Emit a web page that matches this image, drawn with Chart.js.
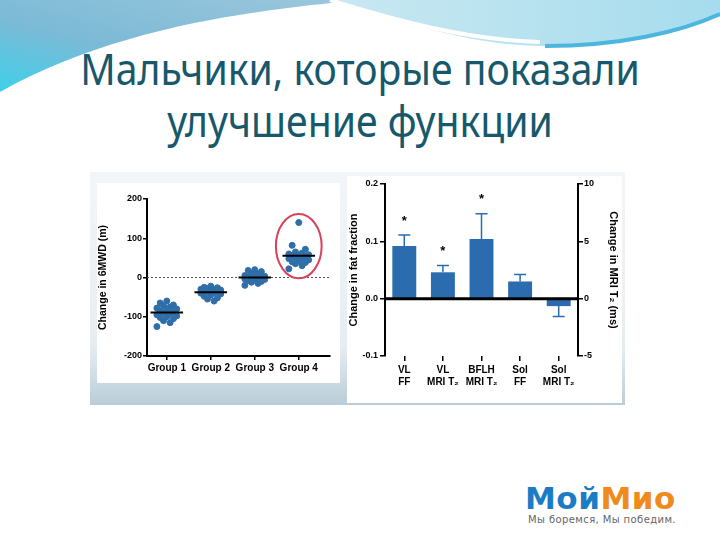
<!DOCTYPE html>
<html>
<head>
<meta charset="utf-8">
<script src="https://cdn.jsdelivr.net/npm/chart.js@4.4.0/dist/chart.umd.min.js"></script>
<style>
body{margin:0;width:720px;height:540px;overflow:hidden;background:#fff;position:relative;font-family:"Noto Sans",sans-serif}
#bg{position:absolute;left:0;top:0}
.title{position:absolute;left:0;width:720px;text-align:center;color:#17586c;font-size:44px;line-height:1;white-space:nowrap;transform:scaleX(0.89)}
#t1{top:46px}
#t2{top:98px}
#frame{position:absolute;left:90px;top:172px;width:535px;height:233px;background:linear-gradient(#f3f6f8,#e6edf1 75%,#b9cdd8)}
#leftBox{position:absolute;left:97px;top:183px;width:243px;height:200px;background:#fff}
#rightBox{position:absolute;left:347px;top:176px;width:275px;height:227px;background:#fff}
#logo{position:absolute;left:525px;top:483px;font-family:"DejaVu Sans",sans-serif;font-weight:bold;font-size:31px;letter-spacing:0.5px;line-height:1}
#logo .a{color:#1b7cc6}
#logo .b{color:#f08a1a}
#tag{position:absolute;left:528px;top:514px;font-family:"DejaVu Sans",sans-serif;font-size:10px;letter-spacing:0.4px;color:#666;white-space:nowrap}
</style>
</head>
<body>
<svg id="bg" width="720" height="540">
  <defs>
    <linearGradient id="gl" x1="1" y1="0" x2="0" y2="1">
      <stop offset="0" stop-color="#9cc7dc"/>
      <stop offset="0.6" stop-color="#7cbad6"/>
      <stop offset="1" stop-color="#3fd0ea"/>
    </linearGradient>
    <linearGradient id="gr" x1="0" y1="0" x2="1" y2="0">
      <stop offset="0" stop-color="#c9e8f1"/>
      <stop offset="1" stop-color="#a6dcee"/>
    </linearGradient>
  </defs>
  <path d="M0,0 L360,0 C 260,10 120,25 0,92 Z" fill="url(#gl)"/>
  <path d="M330,0 C 420,28 480,46 545,46 C 620,46 680,32 720,14 L720,0 Z" fill="url(#gr)"/>
  <path d="M330,0 C 400,22 470,40 540,42" stroke="#fff" stroke-width="4" fill="none"/>
  <path d="M545,46 C 620,46 680,32 720,14" stroke="#4cb6de" stroke-width="4" fill="none"/>
</svg>
<div class="title" id="t1">Мальчики, которые показали</div>
<div class="title" id="t2">улучшение функции</div>
<div id="frame"></div>
<div id="leftBox"><canvas id="left" width="243" height="200"></canvas></div>
<div id="rightBox"><canvas id="right" width="275" height="227"></canvas></div>
<div id="logo"><span class="a">Мой</span><span class="b">Мио</span></div>
<div id="tag">Мы боремся, Мы победим.</div>
<script>
// left chart: change in 6MWD (m) per group
const groups = ['Group 1', 'Group 2', 'Group 3', 'Group 4']
const group1 = [-60, -65, -70, -72, -75, -78, -80, -82, -85, -88, -90, -92, -95, -98, -100, -102, -105, -110, -115, -125]
const group2 = [-22, -25, -26, -28, -30, -30, -32, -33, -35, -35, -36, -38, -40, -42, -45, -48, -52, -55, -60]
const group3 = [20, 18, 15, 10, 8, 5, 3, 2, 0, -1, -2, -3, -4, -5, -6, -8, -10, -12, -15, -20]
const group4 = [140, 82, 72, 65, 62, 60, 58, 56, 55, 54, 52, 50, 48, 45, 42, 40, 38, 35, 30, 22]
const walkTicks = [-200, -100, 0, 100, 200]

// right chart: change in fat fraction / MRI T2
const muscles = [['VL', 'FF'], ['VL', 'MRI T₂'], ['BFLH', 'MRI T₂'], ['Sol', 'FF'], ['Sol', 'MRI T₂']]
const fatChange = [0.092, 0.046, 0.104, 0.030, -0.013]
const fatError = [0.019, 0.012, 0.044, 0.012, 0.018]
const significant = [true, true, true, false, false]
const fatTicks = [-0.1, 0, 0.1, 0.2]
const t2Ticks = [-5, 0, 5, 10]

const dotBlue = '#2f6ea8'
const barBlue = '#2b6cae'
const narrow = '"Liberation Sans Narrow", "Liberation Sans", Arial, sans-serif'
const arial = '"Liberation Sans", Arial, sans-serif'

const allGroups = [group1, group2, group3, group4]
const mean = a => a.reduce((s, v) => s + v, 0) / a.length
// spread points sideways so neighbours in value don't overlap
const spread = [0, -2, 2, -1, 1, -3, 3]

let leftSets = []
leftSets.push({
    type: 'line',
    data: [{x: 0.55, y: 0}, {x: 4.71, y: 0}],
    borderColor: '#555',
    borderWidth: 1,
    borderDash: [2, 2],
    pointRadius: 0,
    order: 3
})
allGroups.forEach((vals, g) => {
    leftSets.push({
        data: vals.map((v, k) => ({x: g + 1 + spread[k % 7] * 0.075, y: v})),
        backgroundColor: dotBlue,
        borderColor: dotBlue,
        pointRadius: 3,
        order: 2
    })
    let m = mean(vals)
    leftSets.push({
        type: 'line',
        data: [{x: g + 1 - 0.37, y: m}, {x: g + 1 + 0.37, y: m}],
        borderColor: '#000',
        borderWidth: 2,
        pointRadius: 0,
        order: 1
    })
})

// red ring round group 4
const ringPlugin = {
    id: 'ring',
    afterDatasetsDraw(chart) {
        const {ctx, scales: {x, y}} = chart
        let cx = x.getPixelForValue(4)
        let rx = x.getPixelForValue(4.52) - cx
        let top = y.getPixelForValue(162)
        let bottom = y.getPixelForValue(-2)
        ctx.save()
        ctx.strokeStyle = '#d8435c'
        ctx.lineWidth = 2
        ctx.beginPath()
        ctx.ellipse(cx, (top + bottom) / 2, rx, (bottom - top) / 2, 0, 0, Math.PI * 2)
        ctx.stroke()
        ctx.restore()
    }
}

new Chart(document.getElementById('left'), {
    type: 'scatter',
    data: {datasets: leftSets},
    options: {
        responsive: false,
        animation: false,
        plugins: {legend: {display: false}, tooltip: {enabled: false}},
        layout: {padding: {top: 16, right: 10, left: 0, bottom: 0}},
        scales: {
            x: {
                type: 'linear',
                min: 0.55,
                max: 4.71,
                afterBuildTicks: axis => { axis.ticks = groups.map((n, i) => ({value: i + 1})) },
                afterFit: axis => { axis.height = 27 },
                ticks: {
                    callback: v => groups[v - 1],
                    color: '#000',
                    font: {family: narrow, size: 10, weight: 'bold'},
                    maxRotation: 0,
                    padding: 2
                },
                grid: {drawOnChartArea: false, color: '#000', tickLength: 4, lineWidth: 1.5},
                border: {color: '#000', width: 2}
            },
            y: {
                min: -200,
                max: 200,
                afterBuildTicks: axis => { axis.ticks = walkTicks.map(v => ({value: v})) },
                afterFit: axis => { axis.width = 50 },
                ticks: {color: '#000', font: {family: narrow, size: 9, weight: 'bold'}, padding: 1},
                title: {display: true, text: 'Change in 6MWD (m)', color: '#000', font: {family: arial, size: 10.5, weight: 'bold'}, padding: 0},
                grid: {drawOnChartArea: false, color: '#000', tickLength: 4, lineWidth: 1.5},
                border: {color: '#000', width: 2}
            }
        }
    },
    plugins: [ringPlugin]
})

// error bars, stars and the bold zero line
const errorPlugin = {
    id: 'errors',
    afterDatasetsDraw(chart) {
        const {ctx, chartArea, scales: {y}} = chart
        const meta = chart.getDatasetMeta(0)
        ctx.save()
        ctx.strokeStyle = barBlue
        ctx.lineWidth = 1.5
        meta.data.forEach((bar, i) => {
            let v = fatChange[i]
            let end = v + (v >= 0 ? fatError[i] : -fatError[i])
            let p0 = y.getPixelForValue(v)
            let p1 = y.getPixelForValue(end)
            ctx.beginPath()
            ctx.moveTo(bar.x, p0)
            ctx.lineTo(bar.x, p1)
            ctx.moveTo(bar.x - 6, p1)
            ctx.lineTo(bar.x + 6, p1)
            ctx.stroke()
            if (significant[i]) {
                ctx.fillStyle = '#000'
                ctx.font = 'bold 13px ' + arial
                ctx.textAlign = 'center'
                ctx.textBaseline = 'middle'
                ctx.fillText('*', bar.x, p1 - 14)
            }
        })
        ctx.strokeStyle = '#000'
        ctx.lineWidth = 3
        let z = y.getPixelForValue(0)
        ctx.beginPath()
        ctx.moveTo(chartArea.left, z)
        ctx.lineTo(chartArea.right, z)
        ctx.stroke()
        ctx.restore()
    }
}

new Chart(document.getElementById('right'), {
    type: 'bar',
    data: {
        labels: muscles,
        datasets: [{
            data: fatChange,
            backgroundColor: barBlue,
            barPercentage: 0.62,
            categoryPercentage: 1
        }]
    },
    options: {
        responsive: false,
        animation: false,
        plugins: {legend: {display: false}, tooltip: {enabled: false}},
        layout: {padding: {top: 8, right: 0, left: 0, bottom: 0}},
        scales: {
            x: {
                afterFit: axis => { axis.height = 47 },
                ticks: {color: '#000', font: {family: arial, size: 10, weight: 'bold'}, maxRotation: 0, padding: 3},
                grid: {drawOnChartArea: false, offset: false, color: '#000', tickLength: 5, lineWidth: 1.5},
                border: {display: false}
            },
            y: {
                min: -0.1,
                max: 0.2,
                afterBuildTicks: axis => { axis.ticks = fatTicks.map(v => ({value: v})) },
                afterFit: axis => { axis.width = 38 },
                ticks: {color: '#000', font: {family: arial, size: 9, weight: 'bold'}, padding: 2, callback: v => v.toFixed(1)},
                title: {display: true, text: 'Change in fat fraction', color: '#000', font: {family: arial, size: 11, weight: 'bold'}, padding: 0},
                grid: {drawOnChartArea: false, color: '#000', tickLength: 5, lineWidth: 1.5},
                border: {color: '#000', width: 2}
            },
            y2: {
                position: 'right',
                min: -5,
                max: 10,
                afterBuildTicks: axis => { axis.ticks = t2Ticks.map(v => ({value: v})) },
                afterFit: axis => { axis.width = 44 },
                ticks: {color: '#000', font: {family: arial, size: 9, weight: 'bold'}, padding: 1},
                title: {display: true, text: 'Change in MRI T₂ (ms)', color: '#000', font: {family: arial, size: 11, weight: 'bold'}, padding: 2},
                grid: {drawOnChartArea: false, color: '#000', tickLength: 5, lineWidth: 1.5},
                border: {color: '#000', width: 2}
            }
        }
    },
    plugins: [errorPlugin]
})
</script>
</body>
</html>
